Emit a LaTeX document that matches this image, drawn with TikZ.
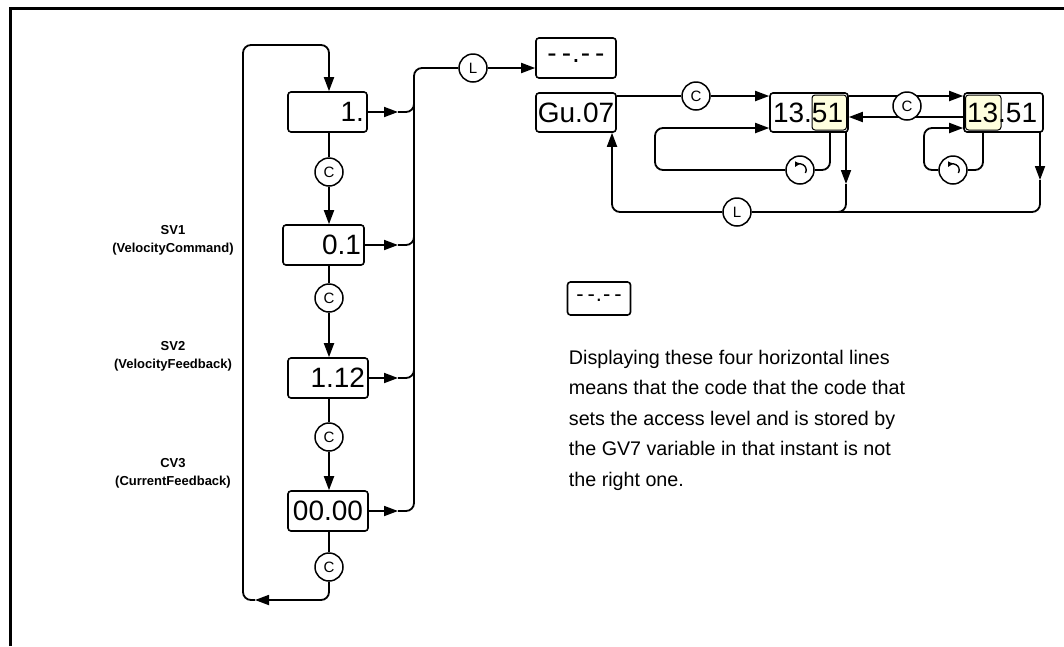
\documentclass[tikz,border=0pt]{standalone}
\usepackage{fontspec}
\setmainfont{Liberation Sans}
\newfontfamily\segfont{Liberation Sans}
\usepackage{graphicx}
\usetikzlibrary{arrows.meta,calc}
\definecolor{cream}{RGB}{255,255,222}
\begin{document}
\begin{tikzpicture}[x=1pt,y=-1pt,line width=1.8pt,
  tip/.style={-{Triangle[length=14pt,width=10pt]}},
  disp/.style={draw,rounded corners=3pt,line width=1.6pt,minimum height=40pt,inner sep=0pt,
     font=\segfont\fontsize{28}{28}\selectfont},
  circ/.style={draw,circle,fill=white,minimum size=28pt,inner sep=0pt,line width=1.5pt,
     font=\fontsize{15}{15}\selectfont},
  lbl/.style={font=\bfseries\fontsize{13}{15}\selectfont},
  para/.style={anchor=base west,inner sep=0pt,font=\fontsize{19.7}{24}\selectfont},
  rc/.style={rounded corners=8pt},
  rot/.style={line width=1.4pt,{Triangle[length=5pt,width=5pt]}-}]
\useasboundingbox (0,0) rectangle (1064,646);
% frame
\draw[line width=3pt] (10,646) -- (10,8) -- (1064,8);

% left column displays
\node[disp,minimum width=79pt,text width=73pt,align=right] (b1) at (327.5,112) {1.};
\node[disp,minimum width=81pt,text width=75pt,align=right] (b2) at (323.5,245) {0.1};
\node[disp,minimum width=80pt,text width=74pt,align=right] (b3) at (328,378) {1.12};
\node[disp,minimum width=80pt] (b4) at (328,511) {00.00};

\node[circ] (c1) at (329,172) {C};
\node[circ] (c2) at (329,298) {C};
\node[circ] (c3) at (329,437) {C};
\node[circ] (c4) at (329,567) {C};

\draw (c1|-b1.south) -- (c1.north);
\draw[tip] (c1.south) -- (c1|-b2.north);
\draw (c2|-b2.south) -- (c2.north);
\draw[tip] (c2.south) -- (c2|-b3.north);
\draw (c3|-b3.south) -- (c3.north);
\draw[tip] (c3.south) -- (c3|-b4.north);
\draw (c4|-b4.south) -- (c4.north);
\coordinate (lb) at (255,600);
\draw[tip,rc] (c4.south) -- (c4|-lb) -- (lb);
\draw[tip,rc] (lb) -- (243,600) -- (243,45) -- (329,45) -- (c1|-b1.north);

% labels
\node[lbl] (sv1) at (173,230) {SV1};
\node[lbl] (sv1b) at (173,249) {(VelocityCommand)};
\node[lbl] (sv2) at (173,346) {SV2};
\node[lbl] (sv2b) at (173,365) {(VelocityFeedback)};
\node[lbl] (cv3) at (173,463) {CV3};
\node[lbl] (cv3b) at (173,482) {(CurrentFeedback)};

% bus
\node[circ] (lc) at (473,68) {L};
\node[disp,minimum width=80pt] (dash) at (576,58) {-\kern5pt-\kern1pt.\kern1pt-\kern5pt-};
\coordinate (a1) at (398,112);
\coordinate (a2) at (398,245);
\coordinate (a3) at (398,378);
\coordinate (a4) at (398,511);
\draw[tip] (b1.east) -- (a1);
\draw[tip] (b2.east) -- (a2);
\draw[tip] (b3.east) -- (a3);
\draw[tip] (b4.east) -- (a4);
\draw[rc] (a4) -- (414,511) -- (414,68) -- (lc.west);
\draw[rc] (a1) -- (414,112) -- (414,92);
\draw[rc] (a2) -- (414,245) -- (414,225);
\draw[rc] (a3) -- (414,378) -- (414,358);
\draw[tip] (lc.east) -- (dash.west|-lc);

% right part
\node[disp,minimum width=80pt,minimum height=39pt] (gu) at (576,112.5) {Gu.07};
\fill[cream,draw=black,line width=1pt,rounded corners=3pt] (812,95) rectangle (846.5,130);
\fill[cream,draw=black,line width=1pt,rounded corners=3pt] (965.5,95) rectangle (1001,130);
\node[disp,minimum width=78pt,minimum height=39pt,text width=72pt,align=left] (t1) at (809,112.5) {13.51};
\node[disp,minimum width=79pt,minimum height=39pt,text width=73pt,align=left] (t2) at (1003.5,112.5) {13.51};

\coordinate (ry1) at (0,96);
\coordinate (ry2) at (0,117);
\coordinate (ry3) at (0,128);
\node[circ] (cc) at (696,96) {C};
\draw (gu.east|-ry1) -- (cc.west);
\draw[tip] (cc.east) -- (t1.west|-ry1);
\draw[tip] (t1.east|-ry1) -- (t2.west|-ry1);
\draw[tip] (t2.west|-ry2) -- (t1.east|-ry2);
\node[circ] (cc2) at (907,106) {C};

% loops
\node[circ] (rot1) at (800,170) {};
\node[circ] (rot2) at (953,170) {};
\draw[rot] ($(rot1)+(-5pt,3pt)$) arc[start angle=150,end angle=-30,radius=6pt];
\draw[rot] ($(rot2)+(-5pt,3pt)$) arc[start angle=150,end angle=-30,radius=6pt];
\draw[rc] (830,132) -- (830,170) -- (rot1.east);
\draw[tip,rc] (rot1.west) -- (655,170) -- (655,128) -- (t1.west|-ry3);
\draw[rc] (983,132) -- (983,170) -- (rot2.east);
\draw[tip,rc] (rot2.west) -- (924,170) -- (924,128) -- (t2.west|-ry3);

% return line
\node[circ] (lL) at (737,212) {L};
\coordinate (d1) at (846,184);
\coordinate (d2) at (1040,180);
\coordinate (gx) at (612,0);
\draw[tip] (846,132) -- (d1);
\draw[rc] (d1) -- (846,212) -- (790,212);
\draw[tip] (1040,132) -- (d2);
\draw[rc] (d2) -- (1040,212) -- (lL.east);
\draw[tip,rc] (lL.west) -- (612,212) -- (gx|-gu.south);

% note
\node[disp,minimum width=63pt,minimum height=33pt,font=\segfont\fontsize{22}{22}\selectfont] (dash2) at (599,298.5) {-\kern4pt-\kern1pt.\kern1pt-\kern4pt-};
\node[para] (p1) at (568,364) {Displaying these four horizontal lines};
\node[para] (p2) at (568,394.5) {means that the code that the code that};
\node[para] (p3) at (568,425) {sets the access level and is stored by};
\node[para] (p4) at (568,455.5) {the GV7 variable in that instant is not};
\node[para] (p5) at (568,486) {the right one.};
\end{tikzpicture}
\end{document}
